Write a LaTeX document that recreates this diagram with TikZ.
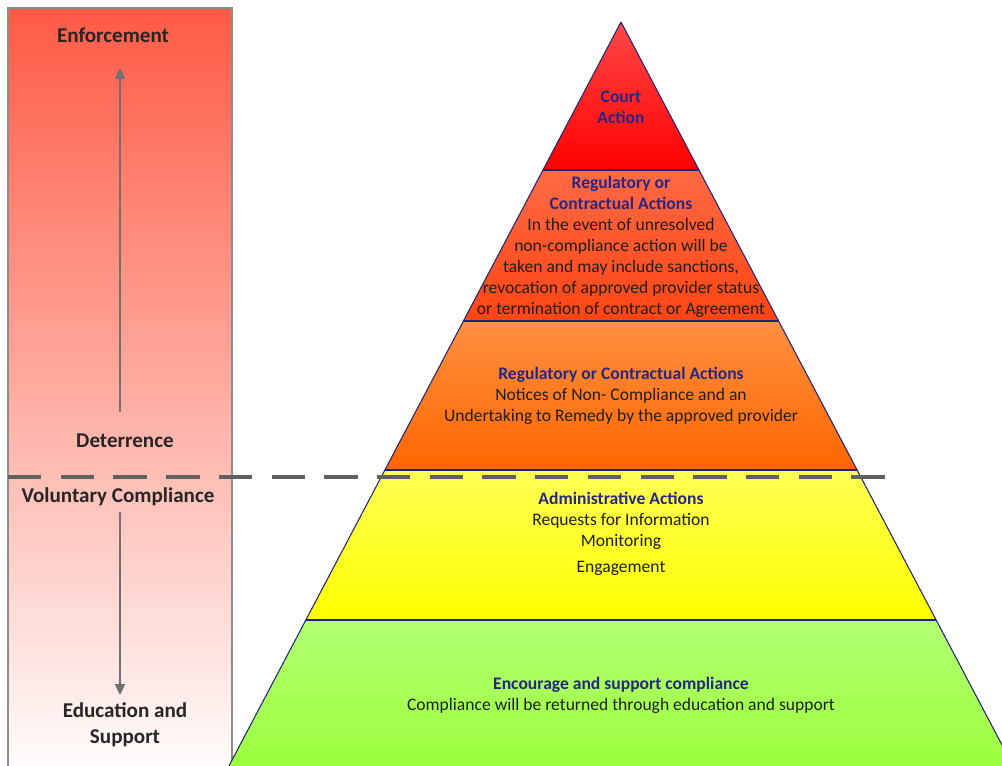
\documentclass[tikz,border=0pt]{standalone}
\usepackage{fontspec}
\setmainfont{Carlito}
\usetikzlibrary{arrows.meta, positioning, calc}
\definecolor{enfred}{HTML}{FF5A45}
\definecolor{rimgrey}{HTML}{8C8C8C}
\definecolor{dashgrey}{HTML}{606060}
\definecolor{arrowgrey}{HTML}{707070}
\definecolor{tiernavy}{HTML}{22227A}
\definecolor{titlenavy}{HTML}{262686}
\definecolor{bodyink}{HTML}{1E1E1E}
\definecolor{courttop}{HTML}{FF4848}
\definecolor{courtbot}{HTML}{FF0000}
\definecolor{regtop}{HTML}{FF6A45}
\definecolor{regbot}{HTML}{FF4412}
\definecolor{noticetop}{HTML}{FF9040}
\definecolor{noticebot}{HTML}{FF6600}
\definecolor{admintop}{HTML}{FFFF55}
\definecolor{adminbot}{HTML}{FFFF00}
\definecolor{encotop}{HTML}{B2FF73}
\definecolor{encobot}{HTML}{99FF33}
\newcommand{\tiertitle}[1]{\textcolor{titlenavy}{\bfseries #1}}
\tikzset{
  >={Triangle[length=2.2mm, width=2mm]},
  sidelbl/.style={font=\fontsize{12}{14.7}\selectfont\bfseries, text=black!85, align=center},
  tiertext/.style={font=\fontsize{10}{12}\selectfont, text=bodyink, align=center, inner sep=1pt},
  tier/.style={draw=tiernavy, line width=0.6pt},
  tierline/.style={draw=tiernavy, line width=1.1pt},
  flowg/.style={->, line width=1.1pt, draw=arrowgrey, fill=arrowgrey},
  splitline/.style={draw=dashgrey, line width=1.9pt, dash pattern=on 19pt off 11pt},
}
\begin{document}
\begin{tikzpicture}[x=0.02cm, y=-0.02cm]
  \useasboundingbox (0,0) rectangle (1002,766);
  \clip (0,0) rectangle (1002,766);
  % left band
  \shade[top color=enfred, bottom color=white] (8,8) rectangle (232,780);
  \draw[rimgrey, line width=1.2pt] (8,780) -- (8,8) -- (232,8) -- (232,780);
  % pyramid tiers
  \foreach \ya/\yb/\ct/\cb in {22/170/courttop/courtbot, 170/321/regtop/regbot,
      321/470/noticetop/noticebot, 470/620/admintop/adminbot, 620/790/encotop/encobot}{
    \pgfmathsetmacro\xa{0.527*(\ya-22)}
    \pgfmathsetmacro\xb{0.527*(\yb-22)}
    \shade[top color=\ct, bottom color=\cb] (621-\xa,\ya) -- (621+\xa,\ya) -- (621+\xb,\yb) -- (621-\xb,\yb) -- cycle;
    \draw[tier] (621-\xa,\ya) -- (621-\xb,\yb) (621+\xa,\ya) -- (621+\xb,\yb);
  }
  \foreach \yc in {170, 321, 470, 620}{
    \pgfmathsetmacro\xc{0.527*(\yc-22)}
    \draw[tierline] (621-\xc,\yc) -- (621+\xc,\yc);
  }
  % split between deterrence and voluntary compliance
  \draw[splitline] (8,477) -- (890,477);
  % side labels
  \node[sidelbl] (enf) at (113,35) {Enforcement};
  \node[sidelbl] (deter) at (125,441) {Deterrence};
  \node[sidelbl] (vol) at (118,497) {Voluntary Compliance};
  \node[sidelbl] (edu) at (125,725) {Education and\\Support};
  \coordinate (axis) at (120,0);
  \draw[flowg, shorten <=9pt, shorten >=11pt] (deter.north -| axis) -- (enf.south -| axis);
  \draw[flowg, shorten >=1pt] (vol.south -| axis) -- (edu.north -| axis);
  % tier texts
  \node[tiertext] (court) at (621,107) {\tiertitle{Court}\\\tiertitle{Action}};
  \node[tiertext] (regact) at (621,247) {\tiertitle{Regulatory or}\\\tiertitle{Contractual Actions}\\
    In the event of unresolved\\non-compliance action will be\\taken and may include sanctions,\\
    revocation of approved provider status\\or termination of contract or Agreement};
  \node[tiertext] (notice) at (621,396) {\tiertitle{Regulatory or Contractual Actions}\\
    Notices of Non- Compliance and an\\Undertaking to Remedy by the approved provider};
  \node[tiertext] (admin) at (621,534) {\tiertitle{Administrative Actions}\\Requests for Information\\
    Monitoring\\[3pt]Engagement};
  \node[tiertext] (enco) at (621,695) {\tiertitle{Encourage and support compliance}\\
    Compliance will be returned through education and support};
\end{tikzpicture}
\end{document}
